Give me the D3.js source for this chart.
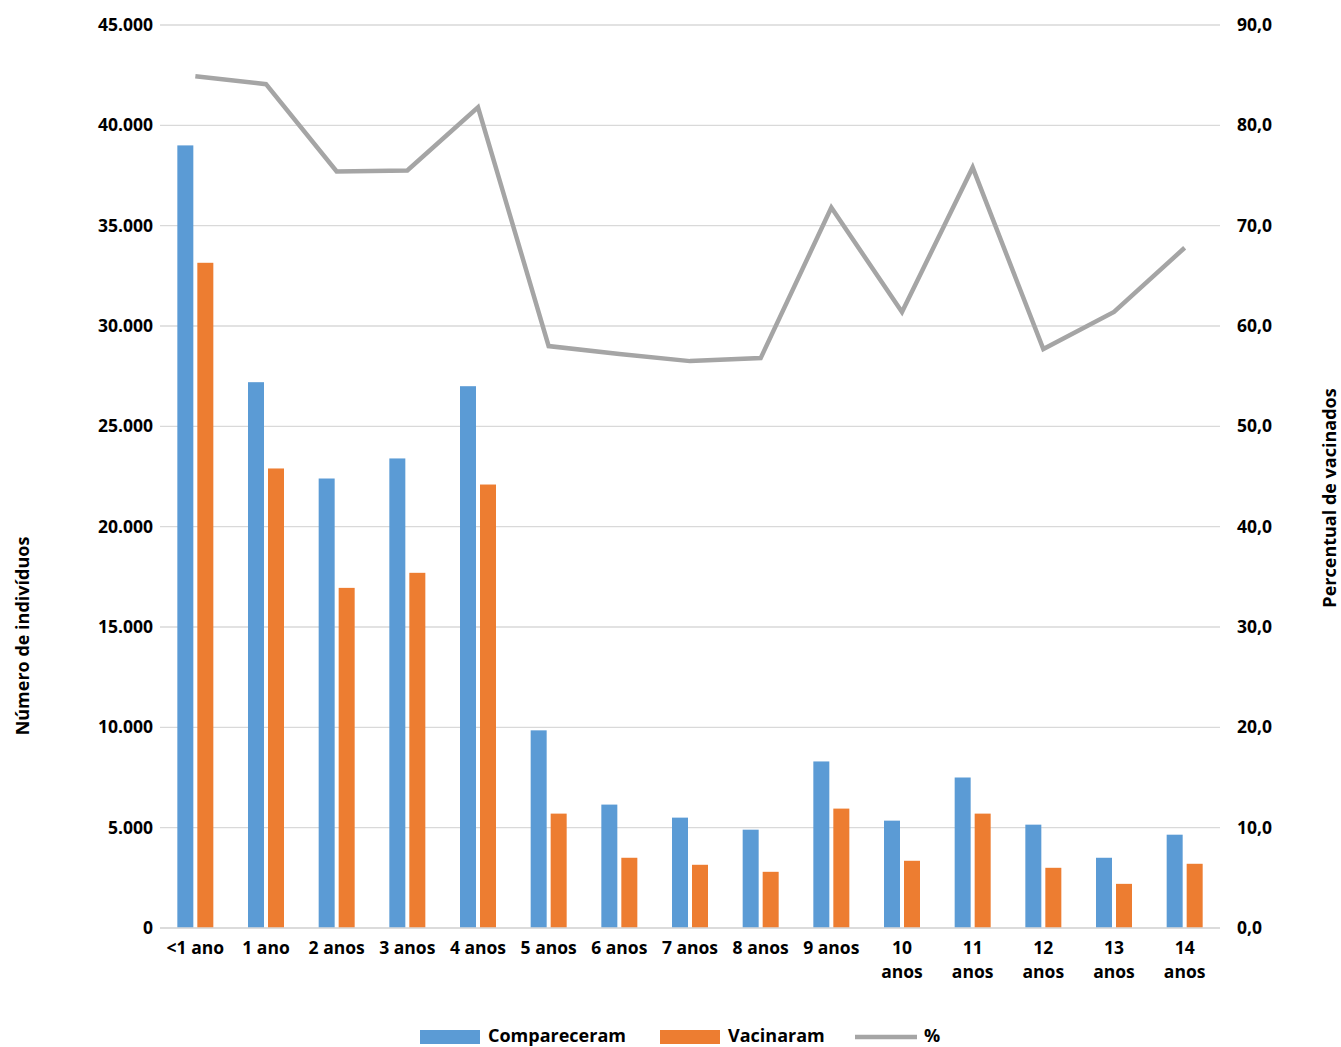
<!DOCTYPE html><html><head><meta charset="utf-8"><script src="https://cdn.jsdelivr.net/npm/d3@7"></script>
<style>body{margin:0;background:#fff}text{font-family:"Open Sans",sans-serif;font-weight:bold;fill:#000}</style></head><body>
<svg id="c" width="1341" height="1047"></svg>
<script>
const categories=[["<1 ano"],["1 ano"],["2 anos"],["3 anos"],["4 anos"],["5 anos"],["6 anos"],["7 anos"],["8 anos"],["9 anos"],["10","anos"],["11","anos"],["12","anos"],["13","anos"],["14","anos"]];
const compareceram=[39000,27200,22400,23400,27000,9850,6150,5500,4900,8300,5350,7500,5150,3500,4650];
const vacinaram=[33150,22900,16950,17700,22100,5700,3500,3150,2800,5950,3350,5700,3000,2200,3200];
const pct=[84.9,84.1,75.4,75.5,81.8,58.0,57.2,56.5,56.8,71.8,61.4,75.8,57.7,61.4,67.8];
const leftTicks=d3.range(0,45001,5000), rightTicks=d3.range(0,90.1,10);
const svg=d3.select("#c");
const L=160,R=1220,T=25,B=928;
const x=d3.scaleBand().domain(d3.range(15)).range([L,R]);
const y=d3.scaleLinear().domain([0,45000]).range([B,T]);
const y2=d3.scaleLinear().domain([0,90]).range([B,T]);
const fmtL=d=>d===0?"0":d3.format(",")(d).replace(/,/g,".");
const fmtR=d=>d.toFixed(1).replace(".",",");
svg.append("g").selectAll("line").data(leftTicks).join("line").attr("x1",L).attr("x2",R).attr("y1",d=>y(d)).attr("y2",d=>y(d)).attr("stroke","#d9d9d9").attr("stroke-width",1.3);
svg.append("g").selectAll("text").data(leftTicks).join("text").attr("x",153).attr("y",d=>y(d)+6).attr("text-anchor","end").attr("font-size",17.5).text(fmtL);
svg.append("g").selectAll("text").data(rightTicks).join("text").attr("x",1237).attr("y",d=>y2(d)+6).attr("font-size",17.5).text(fmtR);
const cx=i=>x(i)+x.bandwidth()/2;
svg.append("g").selectAll("rect").data(compareceram).join("rect").attr("x",(d,i)=>cx(i)-18).attr("width",16).attr("y",d=>y(d)).attr("height",d=>B-y(d)).attr("fill","#5b9bd5");
svg.append("g").selectAll("rect").data(vacinaram).join("rect").attr("x",(d,i)=>cx(i)+2).attr("width",16).attr("y",d=>y(d)).attr("height",d=>B-y(d)).attr("fill","#ed7d31");
svg.append("path").datum(pct).attr("d",d3.line().x((d,i)=>cx(i)).y(d=>y2(d))).attr("fill","none").attr("stroke","#a5a5a5").attr("stroke-width",4.5);
svg.append("line").attr("x1",L).attr("x2",R).attr("y1",B).attr("y2",B).attr("stroke","#d9d9d9").attr("stroke-width",1.3);
const xl=svg.append("g").selectAll("text").data(categories).join("text").attr("text-anchor","middle").attr("font-size",17.5).attr("x",(d,i)=>cx(i)).attr("y",954);
xl.selectAll("tspan").data(d=>d).join("tspan").attr("x",function(){return this.parentNode.getAttribute("x")}).attr("dy",(d,j)=>j?24:0).text(d=>d);
svg.append("text").attr("transform","translate(29,636) rotate(-90)").attr("text-anchor","middle").attr("font-size",18).text("Número de indivíduos");
svg.append("text").attr("transform","translate(1336,498) rotate(-90)").attr("text-anchor","middle").attr("font-size",18).text("Percentual de vacinados");
const lg=svg.append("g");
[["Compareceram","#5b9bd5",420,"r"],["Vacinaram","#ed7d31",660,"r"],["%","#a5a5a5",855,"l"]].forEach(([t,c,lx,k])=>{
 if(k==="r") lg.append("rect").attr("x",lx).attr("y",1030).attr("width",60).attr("height",14).attr("fill",c);
 else lg.append("line").attr("x1",lx).attr("x2",lx+62).attr("y1",1037).attr("y2",1037).attr("stroke",c).attr("stroke-width",4.5);
 lg.append("text").attr("x",lx+(k==="r"?68:69)).attr("y",1042).attr("font-size",18).text(t);
});
</script></body></html>
